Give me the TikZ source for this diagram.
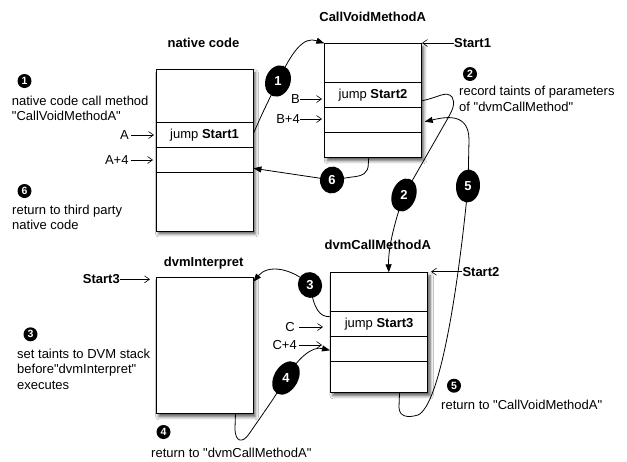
\documentclass[tikz,border=0pt]{standalone}
\usepackage{fontspec}
\setmainfont{Liberation Sans}[Ligatures=TeXOff]
\usetikzlibrary{arrows.meta,shapes.geometric,shadows.blur}

\begin{document}
\begin{tikzpicture}[x=1pt,y=-1pt,
  font=\fontsize{13}{15.5}\selectfont,
  box/.style={draw, line width=0.9pt, fill=white, rectangle, inner sep=0, anchor=north west,
    blur shadow={shadow xshift=2.5pt, shadow yshift=-3pt, shadow blur radius=3pt, shadow opacity=65}},
  rowline/.style={line width=0.7pt},
  title/.style={font=\fontsize{13}{15.5}\selectfont\bfseries},
  ptr/.style={-{Straight Barb[length=5pt,width=7pt]}, line width=0.6pt},
  flow/.style={-{Triangle[length=8pt,width=6pt]}, line width=0.8pt},
  badge/.style={ellipse, fill=black, inner sep=0},
  badgenum/.style={text=white, inner sep=0, font=\fontsize{13}{15}\selectfont\bfseries},
  dot/.style={circle, fill=black, text=white, inner sep=0, minimum size=14pt,
    font=\fontsize{10.5}{10.5}\selectfont\bfseries},
  note/.style={align=left, anchor=west, inner sep=0},
]
\useasboundingbox[fill=white] (0,0) rectangle (627,461);

% ---- memory blocks ----
\node[box, minimum width=96.8, minimum height=161.2] (nc) at (155.7,69.3) {};
\foreach \d in {53.4,78.4,103.4}
  \draw[rowline] ([yshift=-\d pt]nc.north west) -- ([yshift=-\d pt]nc.north east);
\node (nc-jump) at ([yshift=-65.9pt]nc.north) {jump \textbf{Start1}};

\node[box, minimum width=96.5, minimum height=114] (cv) at (324.3,43.3) {};
\foreach \d in {39.2,64.4,89.4}
  \draw[rowline] ([yshift=-\d pt]cv.north west) -- ([yshift=-\d pt]cv.north east);
\node (cv-jump) at ([yshift=-51.8pt]cv.north) {jump \textbf{Start2}};

\node[box, minimum width=96.8, minimum height=136.6] (di) at (155.7,276.7) {};

\node[box, minimum width=97.3, minimum height=120] (dc) at (330,272.3) {};
\foreach \d in {39.4,64.4,89.4}
  \draw[rowline] ([yshift=-\d pt]dc.north west) -- ([yshift=-\d pt]dc.north east);
\node (dc-jump) at ([yshift=-51.9pt]dc.north) {jump \textbf{Start3}};

% ---- block titles ----
\node[title] (lbl-nc) at (203.5,43) {native code};
\node[title] (lbl-cv) at (372.7,17.3) {CallVoidMethodA};
\node[title] (lbl-di) at (203.7,262.7) {dvmInterpret};
\node[title] (lbl-dc) at (377.8,245) {dvmCallMethodA};

% ---- address pointers ----
\node[anchor=east, inner sep=0] (pA) at (129,135) {A};
\node[anchor=east, inner sep=0] (pA4) at (128.7,160) {A+4};
\node[anchor=east, inner sep=0] (pB) at (300,99) {B};
\node[anchor=east, inner sep=0] (pB4) at (300,119) {B+4};
\node[anchor=east, inner sep=0] (pC) at (295,327) {C};
\node[anchor=east, inner sep=0] (pC4) at (297,345) {C+4};
\node[title, anchor=west, inner sep=0] (pS1) at (454,43) {Start1};
\node[title, anchor=west, inner sep=0] (pS2) at (462.3,271.7) {Start2};
\node[title, anchor=east, inner sep=0] (pS3) at (120,279.3) {Start3};

\coordinate (aA) at (154,135);
\coordinate (aA4) at (153,160);
\coordinate (aB) at (322,99);
\coordinate (aB4) at (322,119);
\coordinate (aC) at (323,327);
\coordinate (aC4) at (322,345);
\coordinate (aS1) at (422,43);
\coordinate (aS2) at (431,271.7);
\coordinate (aS3) at (150,279.3);

\draw[ptr] ([xshift=2pt]pA.east) -- (aA);
\draw[ptr] ([xshift=2pt]pA4.east) -- (aA4);
\draw[ptr] (pB.east) -- (aB);
\draw[ptr] (pB4.east) -- (aB4);
\draw[ptr] ([xshift=4pt]pC.east) -- (aC);
\draw[ptr] ([xshift=2pt]pC4.east) -- (aC4);
\draw[ptr] (pS1.west) -- (aS1);
\draw[ptr] (pS2.west) -- (aS2);
\draw[ptr] (pS3.east) -- (aS3);

% ---- control-flow connectors ----
\coordinate (e1) at (278,81);
\coordinate (e2) at (404,195);
\coordinate (e3) at (310,285);
\coordinate (e4) at (286,378);
\coordinate (e5) at (468,186);
\coordinate (e6) at (332,180);

\coordinate (s1) at ([yshift=-64.2pt]nc.north east);
\coordinate (s2) at ([yshift=-57.4pt]cv.north east);
\coordinate (t2) at ([xshift=9.7pt]dc.north);
\coordinate (s5) at ([xshift=20.4pt]dc.south);
\coordinate (t5) at ([xshift=3pt,yshift=-78.4pt]cv.north east);
\coordinate (s6) at ([xshift=-4.3pt]cv.south);
\coordinate (t6) at ([yshift=-99pt]nc.north east);
\coordinate (s3) at ([yshift=-44.4pt]dc.north west);
\coordinate (t3) at ([yshift=-5pt]di.north east);
\coordinate (s4) at ([xshift=30.9pt]di.south);
\coordinate (t4) at ([yshift=-78pt]dc.north west);

\draw[flow] (s1) .. controls (262,114) .. (e1) .. controls (292,52) and (303,36) .. (cv.north west);
\draw[flow] (s2) .. controls (438,98) and (446,90) .. (452,97)
  .. controls (456,103) and (452,111) .. (448,118) -- (e2)
  .. controls (397,215) and (388,245) .. (t2);
\draw[flow] (s5) -- (399,407) .. controls (399,417) and (408,418) .. (418,415)
  .. controls (440,405) and (458,290) .. (e5) -- (469,140)
  .. controls (469,112) and (445,117) .. (t5);
\draw[flow] (s6) -- (368.3,164) .. controls (368.3,173) and (363,176) .. (352,177) -- (e6) -- (t6);
\draw[flow] (s3) .. controls (320,317) and (314,310) .. (e3) .. controls (292,268) and (268,264) .. (t3);
\draw[flow] (s4) -- (235,428) .. controls (235,443) and (243,443) .. (249,434)
  .. controls (262,415) and (276,396) .. (e4) .. controls (298,358) and (312,346) .. (t4);

% ---- step badges on the connectors ----
\node[badge, minimum width=25, minimum height=32, rotate=-20] (b1) at (e1) {};
\node[badgenum] (n1) at (e1) {1};
\node[badge, minimum width=24, minimum height=34, rotate=-20] (b2) at (e2) {};
\node[badgenum] (n2) at (e2) {2};
\node[badge, minimum width=24, minimum height=26, rotate=20] (b3) at (e3) {};
\node[badgenum] (n3) at (e3) {3};
\node[badge, minimum width=24, minimum height=36, rotate=-30] (b4) at (e4) {};
\node[badgenum] (n4) at (e4) {4};
\node[badge, minimum width=24, minimum height=33, rotate=-5] (b5) at (e5) {};
\node[badgenum] (n5) at (e5) {5};
\node[badge, minimum width=24, minimum height=27, rotate=-10] (b6) at (e6) {};
\node[badgenum] (n6) at (e6) {6};

% ---- step descriptions ----
\node[dot] (d1) at (24.5,81) {1};
\node[note] (m1) at (11.7,108.3) {native code call method\\"CallVoidMethodA"};
\node[dot] (d2) at (470,74) {2};
\node[note] (m2) at (459,99) {record taints of parameters\\of "dvmCallMethod"};
\node[dot] (d6) at (24.5,191) {6};
\node[note] (m6) at (12,217.5) {return to third party\\native code};
\node[dot] (d3) at (30.5,334.3) {3};
\node[note] (m3) at (17,369) {set taints to DVM stack\\before"dvmInterpret"\\executes};
\node[dot] (d4) at (163.5,432) {4};
\node[note] (m4) at (151,452.7) {return to "dvmCallMethodA"};
\node[dot] (d5) at (454,385.7) {5};
\node[note] (m5) at (441,405) {return to "CallVoidMethodA"};
\end{tikzpicture}
\end{document}
